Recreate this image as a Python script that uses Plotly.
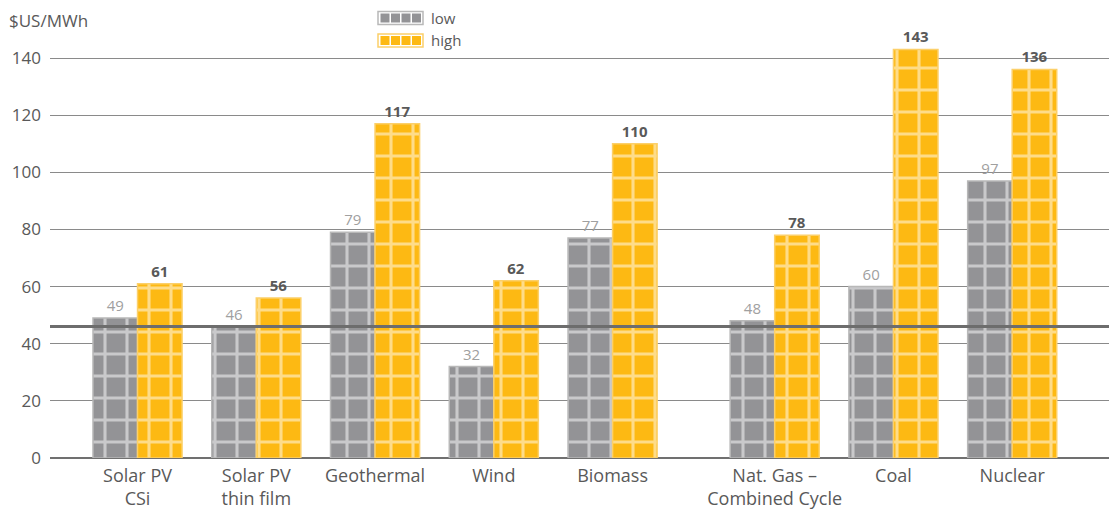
import plotly.graph_objects as go

categories = ["Solar PV<br>CSi", "Solar PV<br>thin film", "Geothermal", "Wind", "Biomass",
              "Nat. Gas –<br>Combined Cycle", "Coal", "Nuclear"]
low_values = [49, 46, 79, 32, 77, 48, 60, 97]
high_values = [61, 56, 117, 62, 110, 78, 143, 136]
series_names = ["low", "high"]
reference_line = 46
y_ticks = [0, 20, 40, 60, 80, 100, 120, 140]

# category positions: extra gap before the fossil/nuclear group
GAP = 0.365
xpos = [i + (GAP if i >= 5 else 0) for i in range(len(categories))]

GRAY = "#939396"
YELLOW = "#fdb913"
GRAY_EDGE = "#b8b8b8"
YELLOW_EDGE = "#fcd06a"
FONT = "Open Sans"
TXT = "#595959"

fig = go.Figure()
for vals, name, col, edge, tfont, txt in [
    (low_values, series_names[0], GRAY, GRAY_EDGE,
     dict(family=FONT, size=15, color="#a0a0a0"), [str(v) for v in low_values]),
    (high_values, series_names[1], YELLOW, YELLOW_EDGE,
     dict(family=FONT, size=15, color=TXT), [f"<b>{v}</b>" for v in high_values]),
]:
    fig.add_trace(go.Bar(
        x=xpos, y=vals, name=name, showlegend=False,
        marker=dict(color=col, line=dict(color=edge, width=1.5),
                    pattern=dict(shape="+", fgcolor="white", bgcolor=col,
                                 size=22, solidity=0.26, fillmode="overlay")),
        text=txt, textposition="outside", textfont=tfont,
        cliponaxis=False,
    ))

fig.add_shape(type="line", xref="paper", yref="y", x0=0, x1=1,
              y0=reference_line, y1=reference_line,
              line=dict(color="#6d6d6d", width=3), layer="above")

# custom legend (wide swatches like mini bars)
def px2x(p):
    return (p - 50) / 1059
def py2y(p):
    return (458 - p) / 423

for i, (name, col, edge) in enumerate([(series_names[0], GRAY, GRAY_EDGE),
                                        (series_names[1], YELLOW, YELLOW_EDGE)]):
    yc = 18 + i * 22.5
    fig.add_shape(type="rect", xref="paper", yref="paper",
                  x0=px2x(378), x1=px2x(423), y0=py2y(yc + 6.5), y1=py2y(yc - 6.5),
                  fillcolor="white", line=dict(color=edge, width=1.5))
    for k in range(4):
        xs = 380.5 + k * 10.5
        fig.add_shape(type="rect", xref="paper", yref="paper",
                      x0=px2x(xs), x1=px2x(xs + 9), y0=py2y(yc + 4.5), y1=py2y(yc - 4.5),
                      fillcolor=col, line=dict(width=0))
    fig.add_annotation(text=name, xref="paper", yref="paper", x=px2x(429), y=py2y(yc),
                       xanchor="left", yanchor="middle", showarrow=False,
                       font=dict(family=FONT, size=15, color=TXT))

fig.add_annotation(text="$US/MWh", xref="paper", yref="paper", x=px2x(7), y=py2y(20),
                   xanchor="left", yanchor="middle", showarrow=False,
                   font=dict(family=FONT, size=17, color=TXT))

fig.update_layout(
    width=1109, height=527,
    margin=dict(l=50, r=0, t=35, b=69),
    paper_bgcolor="white", plot_bgcolor="white",
    barmode="group", bargap=0.25, bargroupgap=0,
    font=dict(family=FONT, size=17, color=TXT),
    showlegend=False,
    xaxis=dict(tickmode="array", tickvals=xpos, ticktext=categories,
               range=[-0.737, 8.18], showgrid=False, ticks="",
               showline=False, zeroline=False, ticklabelstandoff=5,
               tickfont=dict(family=FONT, size=18, color=TXT)),
    yaxis=dict(range=[0, 148.06], tickvals=y_ticks, showgrid=True,
               gridcolor="#8a8a8a", gridwidth=1, zeroline=True,
               zerolinecolor="#707070", zerolinewidth=2, ticks="",
               showline=False, ticklabelstandoff=8,
               tickfont=dict(family=FONT, size=17, color=TXT)),
)

fig.write_html("out.html")
